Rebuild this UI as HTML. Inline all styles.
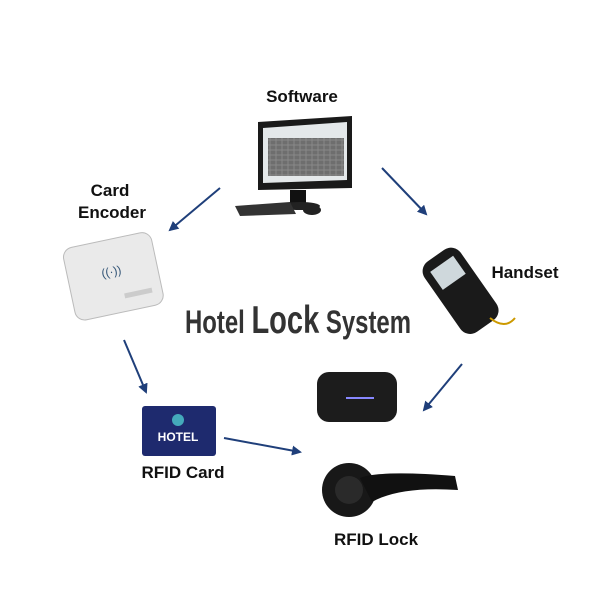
<!DOCTYPE html>
<html><head><meta charset="utf-8"><style>
html,body{margin:0;padding:0;background:#fff;}
body{width:600px;height:600px;overflow:hidden;}
text{font-family:"Liberation Sans","DejaVu Sans",sans-serif;}
</style></head><body>
<svg width="600" height="600" viewBox="0 0 600 600" xmlns="http://www.w3.org/2000/svg">
<defs>
<marker id="a" markerWidth="10" markerHeight="10" refX="8" refY="5" orient="auto" markerUnits="userSpaceOnUse">
<path d="M0,0 L10,5 L0,10 z" fill="#1f3f7a"/></marker>
<pattern id="g" width="6" height="5" patternUnits="userSpaceOnUse"><rect width="6" height="5" fill="#888"/><rect x="0.5" y="0.5" width="5" height="4" fill="#6e6e6e"/></pattern>
</defs>
<text x="302" y="102" font-size="17" font-weight="bold" text-anchor="middle" fill="#111">Software</text>
<text x="110" y="196" font-size="17" font-weight="bold" text-anchor="middle" fill="#111">Card</text>
<text x="112" y="218" font-size="17" font-weight="bold" text-anchor="middle" fill="#111">Encoder</text>
<text x="525" y="278" font-size="17" font-weight="bold" text-anchor="middle" fill="#111">Handset</text>
<text x="183" y="478" font-size="17" font-weight="bold" text-anchor="middle" fill="#111">RFID Card</text>
<text x="376" y="545" font-size="17" font-weight="bold" text-anchor="middle" fill="#111">RFID Lock</text>
<g transform="translate(0,-44) scale(1,1.15)">
<text x="298" y="328" font-weight="bold" text-anchor="middle" fill="#333" textLength="226" lengthAdjust="spacingAndGlyphs"><tspan font-size="28">Hotel </tspan><tspan font-size="34">Lock</tspan><tspan font-size="28"> System</tspan></text>
</g>

<g stroke="#1f3f7a" stroke-width="2" fill="none" marker-end="url(#a)">
<line x1="220" y1="188" x2="170" y2="230"/>
<line x1="382" y1="168" x2="426" y2="214"/>
<line x1="124" y1="340" x2="146" y2="392"/>
<line x1="224" y1="438" x2="300" y2="452"/>
<line x1="462" y1="364" x2="424" y2="410"/>
</g>

<g>
<polygon points="258,122 352,116 352,188 258,190" fill="#1a1a1a"/>
<polygon points="263,128 347,122 347,180 263,183" fill="#e4e8ea"/>
<rect x="268" y="138" width="76" height="38" fill="url(#g)"/>
<rect x="290" y="190" width="16" height="14" fill="#111"/>
<ellipse cx="300" cy="206" rx="20" ry="4" fill="#222"/>
<polygon points="235,206 290,202 296,214 240,216" fill="#333"/>
<ellipse cx="312" cy="210" rx="9" ry="5" fill="#222"/>
</g>

<g transform="rotate(-12 110 275)">
<rect x="68" y="240" width="90" height="74" rx="10" fill="#eaeaea" stroke="#bbb"/>
<text x="112" y="276" font-size="12" text-anchor="middle" fill="#357">((·))</text>
<rect x="120" y="296" width="28" height="5" fill="#ccc"/>
</g>

<g transform="rotate(-35 460 290)">
<rect x="438" y="248" width="44" height="86" rx="12" fill="#1a1a1a"/>
<rect x="446" y="258" width="28" height="22" fill="#cfd8dc"/>
</g>
<path d="M490 318 Q505 330 515 318" stroke="#c90" stroke-width="2" fill="none"/>

<rect x="142" y="406" width="74" height="50" rx="3" fill="#1e2a6e"/>
<circle cx="178" cy="420" r="6" fill="#4ab" />
<text x="178" y="441" font-size="12" font-weight="bold" text-anchor="middle" fill="#fff">HOTEL</text>

<rect x="317" y="372" width="80" height="50" rx="12" fill="#1c1c1c"/>
<line x1="346" y1="398" x2="374" y2="398" stroke="#88f" stroke-width="2"/>

<circle cx="349" cy="490" r="27" fill="#181818"/>
<circle cx="349" cy="490" r="14" fill="#2a2a2a"/>
<path d="M360 478 Q380 470 455 476 L458 490 Q400 486 372 502 Z" fill="#111"/>
</svg>
</body></html>
